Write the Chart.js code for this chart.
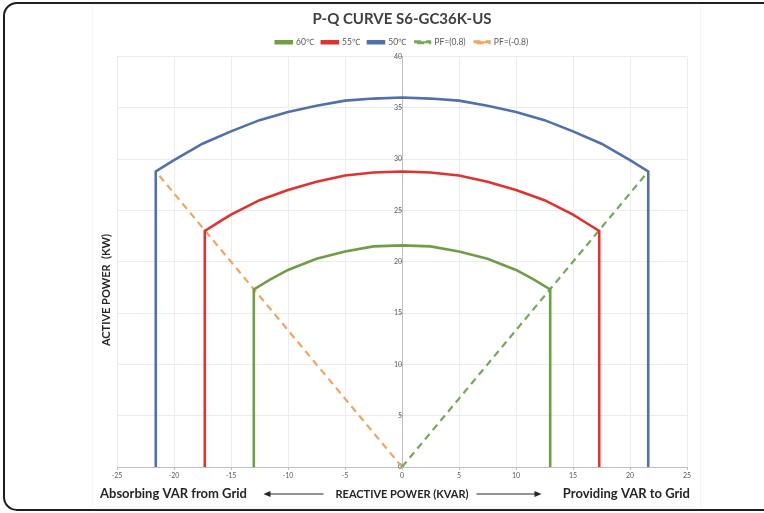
<!DOCTYPE html>
<html>
<head>
<meta charset="utf-8">
<script src="https://cdn.jsdelivr.net/npm/chart.js@4.4.1/dist/chart.umd.min.js"></script>
<style>
body { margin:0; background:#fff; width:764px; height:513px; overflow:hidden; position:relative; font-family: Lato, sans-serif; }
#frame { position:absolute; left:3px; top:2px; width:800px; height:505px; border:2px solid #1e1e1e; border-radius:14px; }
#panel { position:absolute; left:93px; top:5px; width:607px; height:503px; box-shadow:0 0 2px #e2e2e2; background:#fff; }
</style>
</head>
<body>
<div id="frame"></div>
<div id="panel"><canvas id="chart" width="607" height="503"></canvas></div>
<script>
// reactive power (kVAR) / active power (kW)
const q60 = [-13, -13, -11.5, -10, -7.5, -5, -2.5, 0, 2.5, 5, 7.5, 10, 11.5, 13, 13]
const p60 = [0, 17.3, 18.3, 19.2, 20.3, 21, 21.5, 21.6, 21.5, 21, 20.3, 19.2, 18.3, 17.3, 0]

const q55 = [-17.3, -17.3, -16, -15, -12.5, -10, -7.5, -5, -2.5, 0, 2.5, 5, 7.5, 10, 12.5, 15, 16, 17.3, 17.3]
const p55 = [0, 23, 23.9, 24.6, 26, 27, 27.8, 28.4, 28.7, 28.8, 28.7, 28.4, 27.8, 27, 26, 24.6, 23.9, 23, 0]

const q50 = [-21.6, -21.6, -20, -17.5, -15, -12.5, -10, -7.5, -5, -2.5, 0, 2.5, 5, 7.5, 10, 12.5, 15, 17.5, 20, 21.6, 21.6]
const p50 = [0, 28.8, 29.9, 31.5, 32.7, 33.8, 34.6, 35.2, 35.7, 35.9, 36, 35.9, 35.7, 35.2, 34.6, 33.8, 32.7, 31.5, 29.9, 28.8, 0]

const qPfPos = [0, 21.6]
const pPfPos = [0, 28.8]
const qPfNeg = [0, -21.6]
const pPfNeg = [0, 28.8]

const seriesNames = ['60\u2103', '55\u2103', '50\u2103', 'PF=(0.8)', 'PF=(-0.8)']
const xTicks = [-25, -20, -15, -10, -5, 0, 5, 10, 15, 20, 25]

function pts(qs, ps) {
  return qs.map((q, i) => ({ x: q, y: ps[i] }))
}

const green = '#6f9e47'
const red = '#e2322f'
const blue = '#5270ad'
const orange = '#f2a561'
const greenDash = '#78a65a'

function lineSet(label, data, color, dash) {
  return {
    label: label,
    data: data,
    showLine: true,
    borderColor: color,
    backgroundColor: color,
    borderWidth: dash ? 2.2 : 2.6,
    borderDash: dash ? [7, 5] : [],
    pointRadius: 0,
    tension: 0
  }
}

const textPlugin = {
  id: 'sideText',
  afterDraw(chart) {
    const ctx = chart.ctx
    const xs = chart.scales.x
    const area = chart.chartArea
    ctx.save()
    ctx.fillStyle = '#262626'
    ctx.strokeStyle = '#262626'

    // y axis title
    ctx.font = 'bold 11px Lato'
    ctx.translate(13, 285)
    ctx.rotate(-Math.PI / 2)
    ctx.textAlign = 'center'
    ctx.textBaseline = 'middle'
    ctx.fillText('ACTIVE POWER  (KW)', 0, 0)
    ctx.setTransform(1, 0, 0, 1, 0, 0)

    // bottom captions
    const yy = 489
    const cx = xs.getPixelForValue(0)
    ctx.font = 'bold 11px Lato'
    ctx.textBaseline = 'middle'
    ctx.textAlign = 'center'
    const mid = 'REACTIVE POWER (KVAR)'
    ctx.fillText(mid, cx, yy)
    const w = ctx.measureText(mid).width
    ctx.font = 'bold 13px Lato'
    ctx.textAlign = 'left'
    ctx.fillText('Absorbing VAR from Grid', 7, yy)
    ctx.textAlign = 'right'
    ctx.fillText('Providing VAR to Grid', area.right + 3, yy)

    ctx.lineWidth = 1.2
    // left arrow
    let x1 = cx - w / 2 - 12, x0 = x1 - 60
    ctx.beginPath(); ctx.moveTo(x0 + 5, yy); ctx.lineTo(x1, yy); ctx.stroke()
    ctx.beginPath(); ctx.moveTo(x0, yy); ctx.lineTo(x0 + 7, yy - 3); ctx.lineTo(x0 + 7, yy + 3); ctx.closePath(); ctx.fill()
    // right arrow
    x0 = cx + w / 2 + 8; x1 = x0 + 65
    ctx.beginPath(); ctx.moveTo(x0, yy); ctx.lineTo(x1 - 5, yy); ctx.stroke()
    ctx.beginPath(); ctx.moveTo(x1, yy); ctx.lineTo(x1 - 7, yy - 3); ctx.lineTo(x1 - 7, yy + 3); ctx.closePath(); ctx.fill()
    ctx.restore()
  }
}

let chart = new Chart(document.querySelector('#chart'), {
  type: 'scatter',
  data: {
    datasets: [
      lineSet(seriesNames[0], pts(q60, p60), green, false),
      lineSet(seriesNames[1], pts(q55, p55), red, false),
      lineSet(seriesNames[2], pts(q50, p50), blue, false),
      lineSet(seriesNames[3], pts(qPfPos, pPfPos), greenDash, true),
      lineSet(seriesNames[4], pts(qPfNeg, pPfNeg), orange, true)
    ]
  },
  options: {
    responsive: false,
    animation: false,
    layout: { padding: { left: 24, right: 13, top: 0, bottom: 25 } },
    plugins: {
      title: {
        display: true,
        text: 'P-Q CURVE S6-GC36K-US',
        color: '#404040',
        font: { family: 'Lato', size: 15, weight: 'bold' },
        padding: { top: 5, bottom: 2 }
      },
      legend: {
        position: 'top',
        labels: {
          color: '#595959',
          font: { family: 'Lato', size: 8.5 },
          boxWidth: 16,
          boxHeight: 2,
          padding: 8
        }
      },
      tooltip: { enabled: false }
    },
    scales: {
      x: {
        type: 'linear',
        min: -25,
        max: 25,
        afterBuildTicks: (s) => { s.ticks = xTicks.map(v => ({ value: v })) },
        afterFit: (s) => { s.height = 16 },
        ticks: { color: '#595959', font: { family: 'Lato', size: 7 }, padding: 2 },
        grid: { color: '#ececec', tickColor: '#bfbfbf', tickLength: 3 },
        border: { color: '#bfbfbf' }
      },
      y: {
        type: 'linear',
        position: { x: 0 },
        min: 0,
        max: 40,
        ticks: { stepSize: 5, color: '#595959', font: { family: 'Lato', size: 7 }, padding: 3 },
        grid: { color: '#ececec', tickColor: '#bfbfbf', tickLength: 3 },
        border: { color: '#bfbfbf' }
      }
    }
  },
  plugins: [textPlugin]
})
</script>
</body>
</html>
